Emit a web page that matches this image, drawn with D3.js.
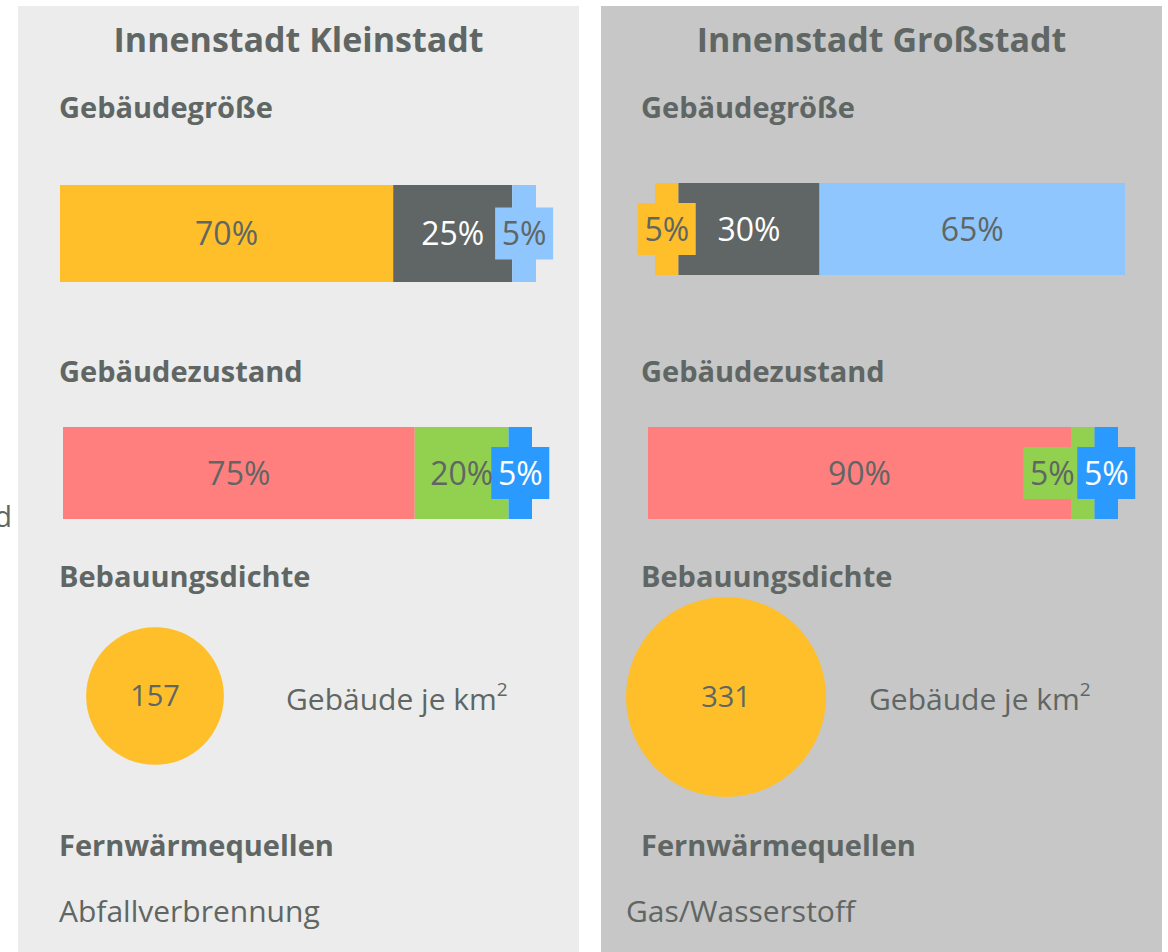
<!DOCTYPE html>
<html>
<head>
<meta charset="utf-8">
<script src="https://cdn.jsdelivr.net/npm/d3@7"></script>
<style>
  body { margin: 0; background: #fff; }
  svg { display: block; font-family: "Open Sans", "Noto Sans", sans-serif; }
</style>
</head>
<body>
<svg id="chart" width="1168" height="952"></svg>
<script>
// titles of the two columns
const panelTitles = ["Innenstadt Kleinstadt", "Innenstadt Großstadt"];
const sectionTitles = ["Gebäudegröße", "Gebäudezustand", "Bebauungsdichte", "Fernwärmequellen"];

// Gebäudegröße: klein / mittel / groß
const sizeKleinstadt = [70, 25, 5];
const sizeGrossstadt = [5, 30, 65];
// Gebäudezustand: saniert / teilsaniert / unsaniert
const zustandKleinstadt = [75, 20, 5];
const zustandGrossstadt = [90, 5, 5];
// Gebäude je km²
const dichte = [157, 331];
const dichteUnit = "Gebäude je km";
// Fernwärmequellen
const quellen = ["Abfallverbrennung", "Gas/Wasserstoff"];

const textColor = "#5f6664";
const sizeColors = ["#febf2b", "#5f6665", "#8fc6fd"];
const sizeText = [textColor, "#fff", textColor];
const zustandColors = ["#ff7f7f", "#92d050", "#2b9aff"];
const zustandText = [textColor, textColor, "#fff"];

const svg = d3.select("#chart");

// cut-off label at the left edge (as in the original)
svg.append("text")
    .attr("x", 12).attr("y", 527)
    .attr("text-anchor", "end")
    .attr("font-size", 29)
    .attr("fill", textColor)
    .text("d");

const panels = [
    {x: 18, w: 561, bg: "#ebeceb", title: panelTitles[0],
     bars: [
        {values: sizeKleinstadt, colors: sizeColors, txt: sizeText, x0: 60, x1: 536, y: 185, h: 97},
        {values: zustandKleinstadt, colors: zustandColors, txt: zustandText, x0: 63, x1: 532, y: 427, h: 92}
     ],
     dichte: dichte[0], cx: 155, cy: 696, unitX: 286, quelle: quellen[0], quelleX: 59, hx: 59},
    {x: 601, w: 561, bg: "#c6c7c6", title: panelTitles[1],
     bars: [
        {values: sizeGrossstadt, colors: sizeColors, txt: sizeText, x0: 655, x1: 1125, y: 183, h: 92},
        {values: zustandGrossstadt, colors: zustandColors, txt: zustandText, x0: 648, x1: 1118, y: 427, h: 92}
     ],
     dichte: dichte[1], cx: 726, cy: 697, unitX: 869, quelle: quellen[1], quelleX: 626, hx: 641}
];

const r = d3.scaleSqrt().domain([0, d3.max(dichte)]).range([0, 100]);
const headY = [118, 382, 587, 856];
const boxW = 58, boxH = 52;

panels.forEach(p => {
    const g = svg.append("g");
    g.append("rect")
        .attr("x", p.x).attr("y", 6)
        .attr("width", p.w).attr("height", 952 - 6)
        .attr("fill", p.bg);

    g.append("text")
        .attr("x", p.x + p.w / 2).attr("y", 52)
        .attr("text-anchor", "middle")
        .attr("font-size", 34).attr("font-weight", "bold")
        .attr("fill", textColor)
        .text(p.title);

    sectionTitles.forEach((t, i) => {
        g.append("text")
            .attr("x", p.hx).attr("y", headY[i])
            .attr("font-size", 29).attr("font-weight", "bold")
            .attr("fill", textColor)
            .text(t);
    });

    // stacked bars
    p.bars.forEach(b => {
        const x = d3.scaleLinear().domain([0, 100]).range([b.x0, b.x1]);
        let acc = 0;
        const segs = b.values.map((v, i) => {
            const s = {v: v, start: acc, end: acc + v, color: b.colors[i], txt: b.txt[i]};
            acc += v;
            return s;
        });
        const cy = b.y + b.h / 2;

        g.selectAll(null).data(segs).enter()
            .append("rect")
            .attr("x", d => x(d.start))
            .attr("y", b.y)
            .attr("width", d => x(d.end) - x(d.start))
            .attr("height", b.h)
            .attr("fill", d => d.color);

        // small segments get a label box, pushed left if they collide
        segs.forEach(d => {
            d.cx = (x(d.start) + x(d.end)) / 2;
            d.boxed = d.v < 10;
        });
        for (let i = segs.length - 2; i >= 0; i--) {
            const a = segs[i], n = segs[i + 1];
            if (a.boxed && n.boxed && a.cx + boxW / 2 > n.cx - boxW / 2 + 4) {
                a.cx = n.cx - boxW + 4;
            }
        }

        g.selectAll(null).data(segs.filter(d => d.boxed)).enter()
            .append("rect")
            .attr("x", d => d.cx - boxW / 2)
            .attr("y", cy - boxH / 2)
            .attr("width", boxW).attr("height", boxH)
            .attr("fill", d => d.color);

        g.selectAll(null).data(segs).enter()
            .append("text")
            .attr("x", d => d.cx)
            .attr("y", cy)
            .attr("dy", "0.36em")
            .attr("text-anchor", "middle")
            .attr("font-size", 32)
            .attr("fill", d => d.txt)
            .text(d => d.v + "%");
    });

    // density bubble
    g.append("circle")
        .attr("cx", p.cx).attr("cy", p.cy)
        .attr("r", r(p.dichte))
        .attr("fill", "#febf2b");
    g.append("text")
        .attr("x", p.cx).attr("y", p.cy)
        .attr("dy", "0.36em")
        .attr("text-anchor", "middle")
        .attr("font-size", 29)
        .attr("fill", textColor)
        .text(p.dichte);

    const unit = g.append("text")
        .attr("x", p.unitX).attr("y", 710)
        .attr("font-size", 30)
        .attr("fill", textColor)
        .text(dichteUnit);
    unit.append("tspan")
        .attr("dy", -14)
        .attr("font-size", 19)
        .text("2");

    g.append("text")
        .attr("x", p.quelleX).attr("y", 922)
        .attr("font-size", 30)
        .attr("fill", textColor)
        .text(p.quelle);
});
</script>
</body>
</html>
